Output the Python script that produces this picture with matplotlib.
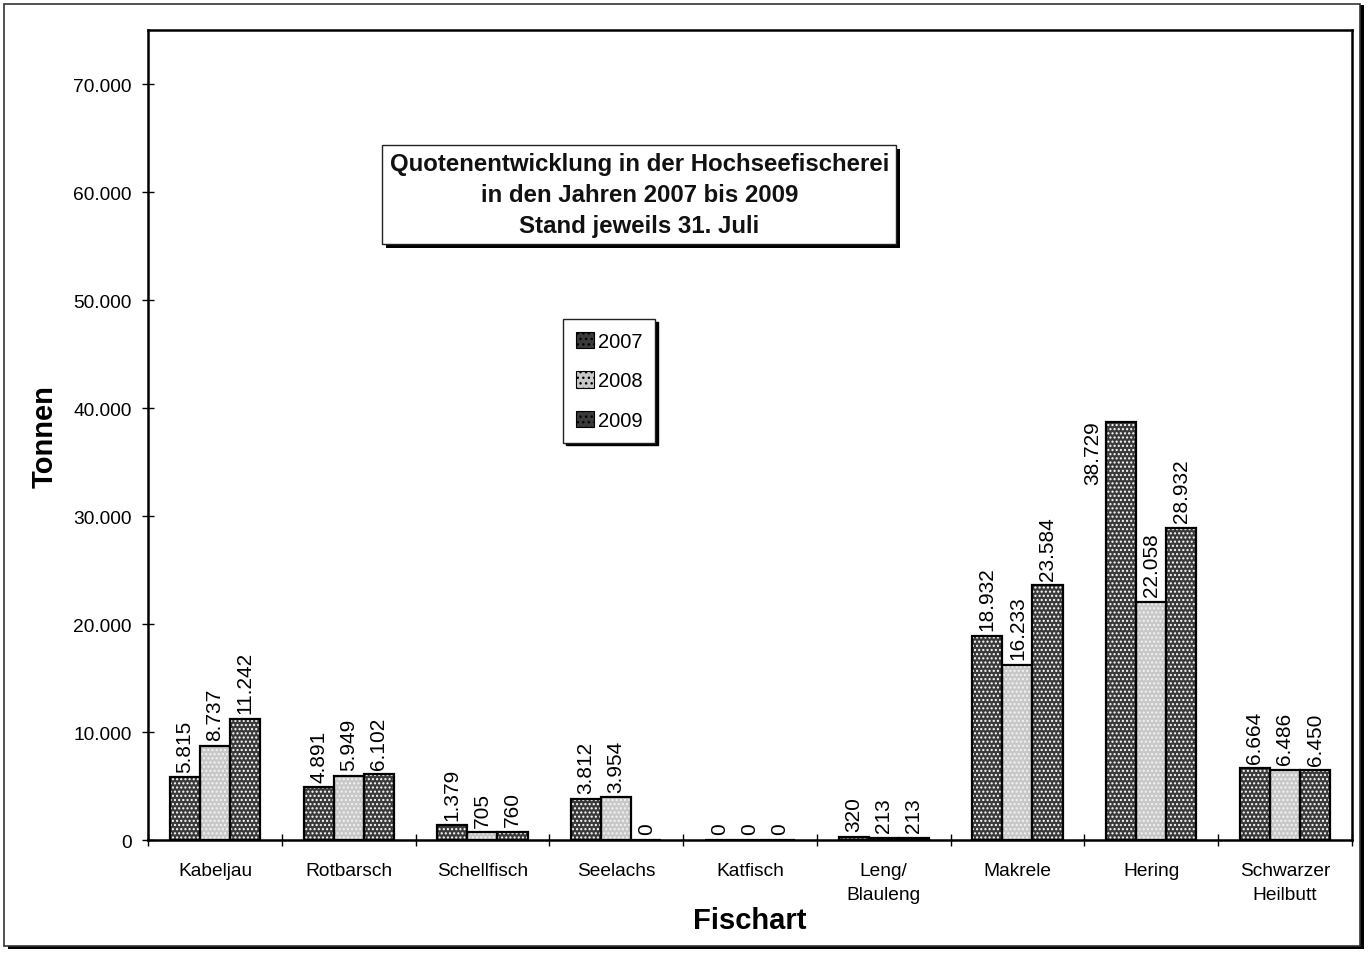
import numpy as np
import matplotlib.pyplot as plt
import matplotlib.patheffects as pe
from matplotlib.patches import Rectangle
from matplotlib.ticker import FuncFormatter

plt.rcParams['font.family'] = ['Liberation Sans', 'DejaVu Sans']
plt.rcParams['hatch.linewidth'] = 1.0

# data
fischart = ['Kabeljau', 'Rotbarsch', 'Schellfisch', 'Seelachs', 'Katfisch',
            'Leng/\nBlauleng', 'Makrele', 'Hering', 'Schwarzer\nHeilbutt']
jahre = ['2007', '2008', '2009']
q2007 = [5815, 4891, 1379, 3812, 0, 320, 18932, 38729, 6664]
q2008 = [8737, 5949, 705, 3954, 0, 213, 16233, 22058, 6486]
q2009 = [11242, 6102, 760, 0, 0, 213, 23584, 28932, 6450]
yticks = [0, 10000, 20000, 30000, 40000, 50000, 60000, 70000]

fig = plt.figure(figsize=(13.71, 9.54), dpi=100)
ax = fig.add_axes([0.108, 0.1184, 0.878, 0.849])
ax.set_zorder(2)

# outer frame with shadow
fig.patches.append(Rectangle((0.006, 0.004), 0.989, 0.99, transform=fig.transFigure,
                             facecolor='black', edgecolor='none', zorder=-2))
fig.patches.append(Rectangle((0.003, 0.007), 0.989, 0.988, transform=fig.transFigure,
                             facecolor='white', edgecolor='#333333', lw=1.2, zorder=-1))

x = np.arange(len(fischart))
w = 0.225
styles = [('#3a3a3a', 'white'), ('#c8c8c8', '#f4f4f4'), ('#3a3a3a', 'white')]
series = [q2007, q2008, q2009]

handles = []
for i, (vals, (fc, hc)) in enumerate(zip(series, styles)):
    pos = x + (i - 1) * w
    ax.bar(pos, vals, w, color=fc, edgecolor=hc, hatch='....', lw=0, zorder=2)
    ax.bar(pos, vals, w, facecolor='none', edgecolor='black', lw=1.6, zorder=3)
    handles.append(ax.bar([0], [0], 0, color=fc, edgecolor=hc, hatch='...', lw=0))
    for xp, v in zip(pos, vals):
        lab = f'{v:,}'.replace(',', '.')
        if i == 0 and v == max(q2007):
            # label sits beside the tallest bar
            ax.text(xp - w * 0.95, v - 5800, lab, rotation=90, ha='center',
                    va='bottom', fontsize=15)
        else:
            ax.annotate(lab, (xp, v), xytext=(0, 4), textcoords='offset points',
                        rotation=90, ha='center', va='bottom', fontsize=15)

ax.set_xlim(-0.5, len(fischart) - 0.5)
ax.set_ylim(0, 75000)
ax.set_yticks(yticks)
ax.yaxis.set_major_formatter(FuncFormatter(lambda v, p: f'{int(v):,}'.replace(',', '.')))
ax.set_xticks(x)
ax.set_xticklabels(fischart, fontsize=13.8, linespacing=1.5)
ax.set_xticks(np.arange(len(fischart) + 1) - 0.5, minor=True)
ax.tick_params(axis='x', which='major', length=0, pad=16)
ax.tick_params(axis='x', which='minor', direction='inout', length=9, width=1)
ax.tick_params(axis='y', direction='inout', length=8, width=1, labelsize=13.8, pad=8)
for s in ax.spines.values():
    s.set_linewidth(1.8)

ax.set_ylabel('Tonnen', fontsize=21, fontweight='bold', labelpad=10)
ax.set_xlabel('Fischart', fontsize=21, fontweight='bold', labelpad=2)

# title box with shadow
title = 'Quotenentwicklung in der Hochseefischerei\nin den Jahren 2007 bis 2009\nStand jeweils 31. Juli'
t = ax.text(0.408, 0.797, title, transform=ax.transAxes, ha='center', va='center',
            fontsize=17.3, fontweight='bold', linespacing=1.45, color='#111111',
            bbox=dict(boxstyle='square,pad=0.3', fc='white', ec='#222222', lw=1), zorder=5)
t.get_bbox_patch().set_path_effects([
    pe.SimplePatchShadow(offset=(3, -3), shadow_rgbFace='black', alpha=1), pe.Normal()])

leg = ax.legend(handles, jahre, loc='upper left', bbox_to_anchor=(0.345, 0.643),
                fontsize=14.5, frameon=True, fancybox=False, edgecolor='#222222',
                framealpha=1, labelspacing=1.0, handlelength=0.85, handleheight=0.85,
                handletextpad=0.2, borderpad=0.65, borderaxespad=0,
                shadow={'color': 'black', 'alpha': 1})
for hp in leg.legend_handles:
    hp.set_linewidth(0.8)
    hp.set_edgecolor('black')
leg.set_zorder(6)

fig.savefig('out.png', dpi=100)
